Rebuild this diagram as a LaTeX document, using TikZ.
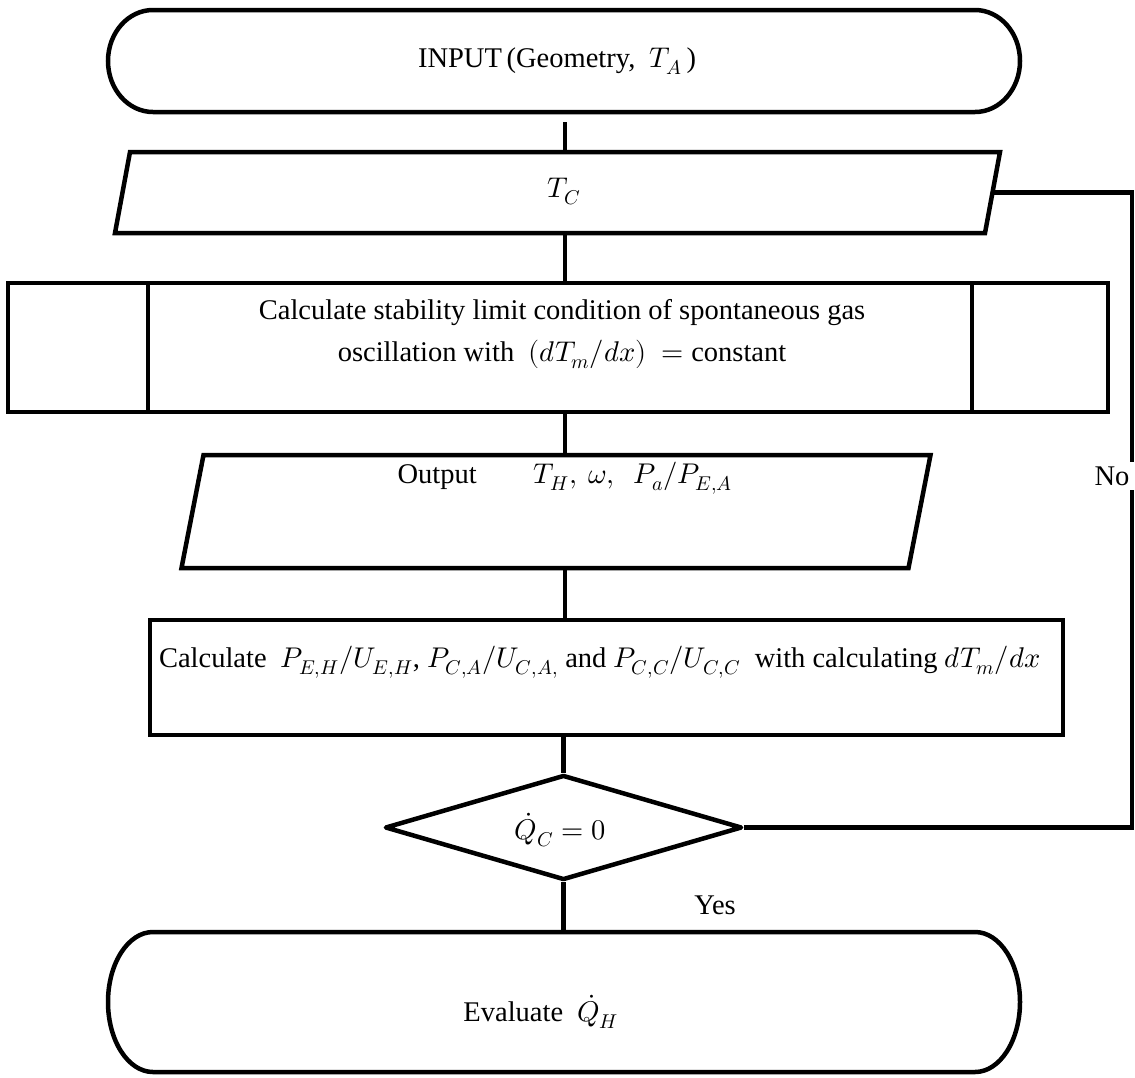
\documentclass[tikz,border=0pt]{standalone}
\usepackage{fontspec}
\usepackage{unicode-math}
\setmainfont{Liberation Serif}
\usetikzlibrary{shapes.geometric,calc}
\tikzset{
  every node/.style={font=\fontsize{28.5}{42}\selectfont},
  box/.style={draw=none, inner sep=0pt, outer sep=0pt},
  outline/.style={line width=4.5pt, line join=miter},
  conn/.style={line width=4.5pt},
  lbl/.style={inner sep=0pt},
}
\begin{document}
\begin{tikzpicture}[x=1pt,y=1pt]
\useasboundingbox (0,0) rectangle (1135,-1077);
\coordinate (axis) at (565,0);
\coordinate (fb) at (1132,0);

% INPUT terminal
\node[box, minimum width=912pt, minimum height=102pt] (input) at (564,-61) {};
\draw[outline] ($(input.north west)+(45,0)$) -- ($(input.north east)+(-45,0)$)
  arc[start angle=90,end angle=-90,x radius=45pt,y radius=51pt]
  -- ($(input.south west)+(45,0)$)
  arc[start angle=270,end angle=90,x radius=45pt,y radius=51pt] -- cycle;

% T_C parallelogram
\node[box, minimum width=870pt, minimum height=81pt] (tc) at (557.5,-192.5) {};
\draw[outline] ($(tc.north west)+(7.5,0)$) -- ($(tc.north east)+(7.5,0)$)
  -- ($(tc.south east)+(-7.5,0)$) -- ($(tc.south west)+(-7.5,0)$) -- cycle;

% predefined process
\node[box, minimum width=1100pt, minimum height=129pt] (proc) at (558,-347.5) {};
\draw[outline] (proc.north west) rectangle (proc.south east);
\draw[outline] ($(proc.north west)+(140,0)$) -- ($(proc.south west)+(140,0)$);
\draw[outline] ($(proc.north east)+(-136,0)$) -- ($(proc.south east)+(-136,0)$);

% Output parallelogram
\node[box, minimum width=727pt, minimum height=113pt] (out) at (556,-511.5) {};
\draw[outline] ($(out.north west)+(11,0)$) -- ($(out.north east)+(11,0)$)
  -- ($(out.south east)+(-11,0)$) -- ($(out.south west)+(-11,0)$) -- cycle;

% Calculate rectangle
\node[box, minimum width=913pt, minimum height=115pt] (calcbox) at (606.5,-677.5) {};
\draw[outline] (calcbox.north west) rectangle (calcbox.south east);

% decision
\node[diamond, draw, line width=4.5pt, line join=round, minimum width=357pt,
      minimum height=105pt, inner sep=0pt, aspect=3.4] (dia) at (563.5,-827.5) {};

% Evaluate terminal
\node[box, minimum width=912pt, minimum height=140pt] (evalb) at (564,-1002) {};
\draw[outline] ($(evalb.north west)+(45,0)$) -- ($(evalb.north east)+(-45,0)$)
  arc[start angle=90,end angle=-90,x radius=45pt,y radius=70pt]
  -- ($(evalb.south west)+(45,0)$)
  arc[start angle=270,end angle=90,x radius=45pt,y radius=70pt] -- cycle;

% texts
\node[lbl] (tinput) at (557,-61) {INPUT\,(Geometry,\ \ $T_A$\,)};
\node[lbl] (ttc) at (564,-192) {$T_C$};
\node[lbl, align=center] (tproc) at (562,-334) {Calculate stability limit condition of spontaneous gas\\oscillation with\ \ $(dT_m/dx)\ =$ constant};
\node[lbl] (tout) at (565,-478) {Output\qquad $T_H,\ \omega,\ \ P_a/P_{E,A}$};
\node[lbl] (tcalc) at (600,-662) {Calculate\enspace $P_{E,H}/U_{E,H}$,\ $P_{C,A}/U_{C,A,}$ and $P_{C,C}/U_{C,C}$\ \ with calculating\ $dT_m/dx$};
\node[lbl] (tdia) at (560,-830) {$\dot{Q}_C = 0$};
\node[lbl] (yes) at (715,-905) {Yes};
\node[lbl] (teval) at (541,-1012) {Evaluate\ \ $\dot{Q}_H$};

% connectors
\draw[conn, shorten <=10pt] (input.south -| axis) -- (tc.north -| axis);
\draw[conn] (tc.south -| axis) -- (proc.north -| axis);
\draw[conn] (proc.south -| axis) -- (out.north -| axis);
\draw[conn] (out.south -| axis) -- (calcbox.north -| axis);
\draw[conn] (calcbox.south -| dia.north) -- (dia.north);
\draw[conn] (dia.south) -- (evalb.north -| dia.south);
\draw[conn] (dia.east) -- (dia.east -| fb) -- (fb |- tc.east) -- (tc.east);
\node[lbl, fill=white, inner sep=5pt] (no) at (1112,-476) {No};
\end{tikzpicture}
\end{document}
